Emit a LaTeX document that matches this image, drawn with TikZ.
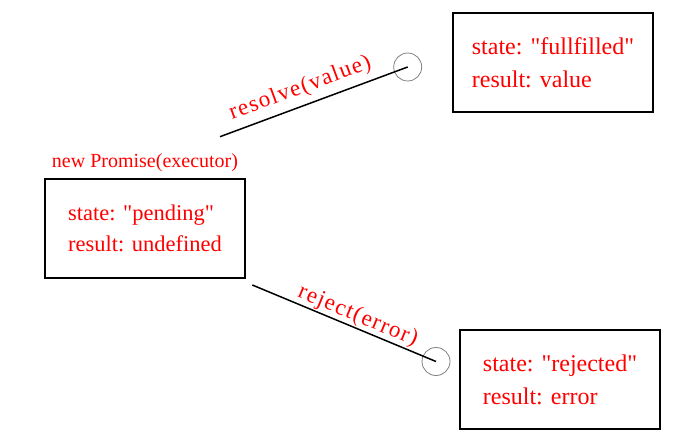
\documentclass[tikz,border=0pt]{standalone}
\usepackage{fontspec}
\setmainfont{Liberation Serif}[Ligatures=TeXOff]
\usetikzlibrary{positioning}

\tikzset{
  statebox/.style={draw, line width=2pt, minimum width=200pt, minimum height=99pt, inner sep=0pt, align=left, text=red, font=\fontsize{22.5}{31}\selectfont},
  settled/.style={statebox, font=\fontsize{24}{33}\selectfont},
  knob/.style={circle, draw=gray, line width=0.8pt, minimum size=28pt, inner sep=0pt},
  arclabel/.style={text=red, inner sep=0pt, font=\fontsize{23}{26}\selectfont\addfontfeature{LetterSpace=6}}
}

\begin{document}
\begin{tikzpicture}[x=1pt, y=-1pt]
\useasboundingbox (0,0) rectangle (683,433);

\node[statebox] (pending) at (145,228.5) {state: "pending"\\result: undefined};
\node[settled] (fulfilled) at (553,62.5) {state: "fullfilled"\\result: value};
\node[settled] (rejected) at (560,379.5) {state: "rejected"\\result: error};

\node[text=red, inner sep=0pt, font=\fontsize{20}{24}\selectfont, above=6pt of pending] (ctor) {new Promise(executor)};

\node[knob] (fulfilKnob) at (407.7,67) {};
\node[knob] (rejectKnob) at (436,361.5) {};

\coordinate (resolveFrom) at (220,136.7);
\coordinate (rejectFrom) at (252.3,285);

\draw[line width=1.5pt] (resolveFrom) -- node[arclabel, sloped, above=6pt, pos=0.46] (resolveText) {resolve(value)} (fulfilKnob.center);
\draw[line width=1.5pt] (rejectFrom) -- node[arclabel, sloped, above=0.5pt, pos=0.55] (rejectText) {reject(error)} (rejectKnob.center);

\end{tikzpicture}
\end{document}
